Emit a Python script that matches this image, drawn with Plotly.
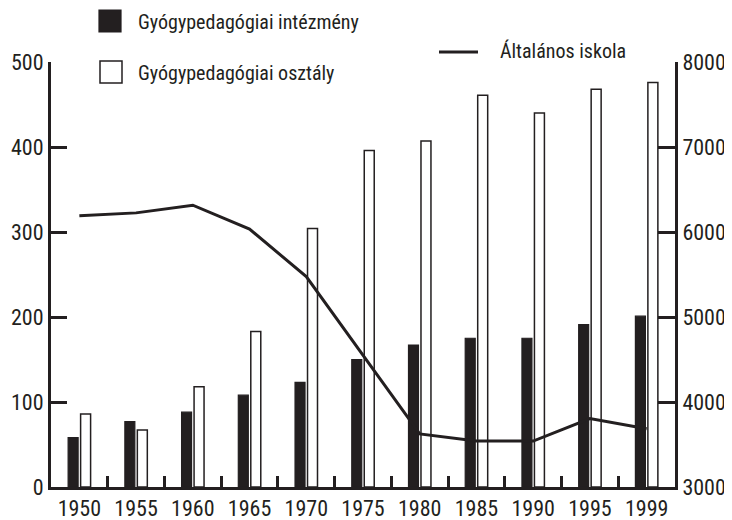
import plotly.graph_objects as go

# ---- data ----
years = ["1950", "1955", "1960", "1965", "1970", "1975", "1980", "1985", "1990", "1995", "1999"]
intezmeny = [58, 77, 88, 108, 123, 150, 167, 175, 175, 191, 201]          # left axis
osztaly = [86, 67, 118, 183, 304, 396, 407, 461, 440, 468, 476]           # left axis
altalanos = [6190, 6225, 6315, 6035, 5475, 4545, 3625, 3540, 3540, 3805, 3685]  # right axis

name_intezmeny = "Gyógypedagógiai intézmény"
name_osztaly = "Gyógypedagógiai osztály"
name_altalanos = "Általános iskola"

# ---- style ----
INK = "#231f20"
FONT = "Roboto Condensed, Liberation Sans Narrow, DejaVu Sans Condensed, sans-serif"
OFF = 8                      # page body margin
W, H = 732 - OFF, 520 - OFF  # figure size
# plot area in page (screenshot) pixels
X0, X1, Y0, Y1 = 51, 675, 62, 487
ML, MT = X0 - OFF, Y0 - OFF
MR, MB = W - (X1 - OFF), H - (Y1 - OFF)
PW, PH = X1 - X0, Y1 - Y0


def px(x):
    return (x - X0) / PW


def py(y):
    return (Y1 - y) / PH


fig = go.Figure()
fig.add_trace(go.Bar(
    x=years, y=intezmeny, name=name_intezmeny, showlegend=False,
    marker=dict(color=INK, line=dict(color=INK, width=1.2)),
))
fig.add_trace(go.Bar(
    x=years, y=osztaly, name=name_osztaly, showlegend=False,
    marker=dict(color="white", line=dict(color=INK, width=1.5)),
))
fig.add_trace(go.Scatter(
    x=years, y=altalanos, name=name_altalanos, yaxis="y2", mode="lines",
    showlegend=False, line=dict(color=INK, width=3),
))

# ---- legend drawn as shapes + text ----
shapes = [
    dict(type="rect", xref="paper", yref="paper", x0=px(99), x1=px(121), y0=py(10), y1=py(32),
         fillcolor=INK, line=dict(color=INK, width=1.2), layer="above"),
    dict(type="rect", xref="paper", yref="paper", x0=px(100), x1=px(122), y0=py(61), y1=py(83),
         fillcolor="white", line=dict(color=INK, width=1.5), layer="above"),
    dict(type="line", xref="paper", yref="paper", x0=px(439), x1=px(478), y0=py(52), y1=py(52),
         line=dict(color=INK, width=3), layer="above"),
]
LEG = dict(size=20, color=INK)
annotations = [
    dict(text=name_intezmeny, xref="paper", yref="paper", x=px(136), y=py(22),
         xanchor="left", yanchor="middle", showarrow=False, font=LEG),
    dict(text=name_osztaly, xref="paper", yref="paper", x=px(136), y=py(73),
         xanchor="left", yanchor="middle", showarrow=False, font=LEG),
    dict(text=name_altalanos, xref="paper", yref="paper", x=px(498), y=py(51),
         xanchor="left", yanchor="middle", showarrow=False, font=LEG),
]

fig.update_layout(
    width=W, height=H,
    margin=dict(l=ML, r=MR, t=MT, b=MB, pad=0),
    paper_bgcolor="white", plot_bgcolor="white",
    font=dict(family=FONT, size=22, color=INK),
    barmode="group", bargap=0.56, bargroupgap=0.2,
    shapes=shapes, annotations=annotations,
    xaxis=dict(
        type="category", range=[-0.5, 10.5], showgrid=False, zeroline=False, automargin=False,
        showline=True, linecolor=INK, linewidth=3, tickangle=0,
        ticks="inside", tickson="boundaries", ticklen=11, tickwidth=3, tickcolor=INK,
        tickfont=dict(size=22), layer="above traces",
    ),
    yaxis=dict(
        range=[0, 500], dtick=100, showgrid=False, zeroline=False, automargin=False,
        showline=True, linecolor=INK, linewidth=3,
        ticks="inside", ticklen=16, tickwidth=3, tickcolor=INK,
        tickfont=dict(size=22),
    ),
    yaxis2=dict(
        range=[3000, 8000], dtick=1000, overlaying="y", side="right", automargin=False,
        showgrid=False, zeroline=False,
        showline=True, linecolor=INK, linewidth=3,
        ticks="inside", ticklen=17, tickwidth=3, tickcolor=INK,
        tickfont=dict(size=22),
    ),
)

fig.write_html("out.html")
